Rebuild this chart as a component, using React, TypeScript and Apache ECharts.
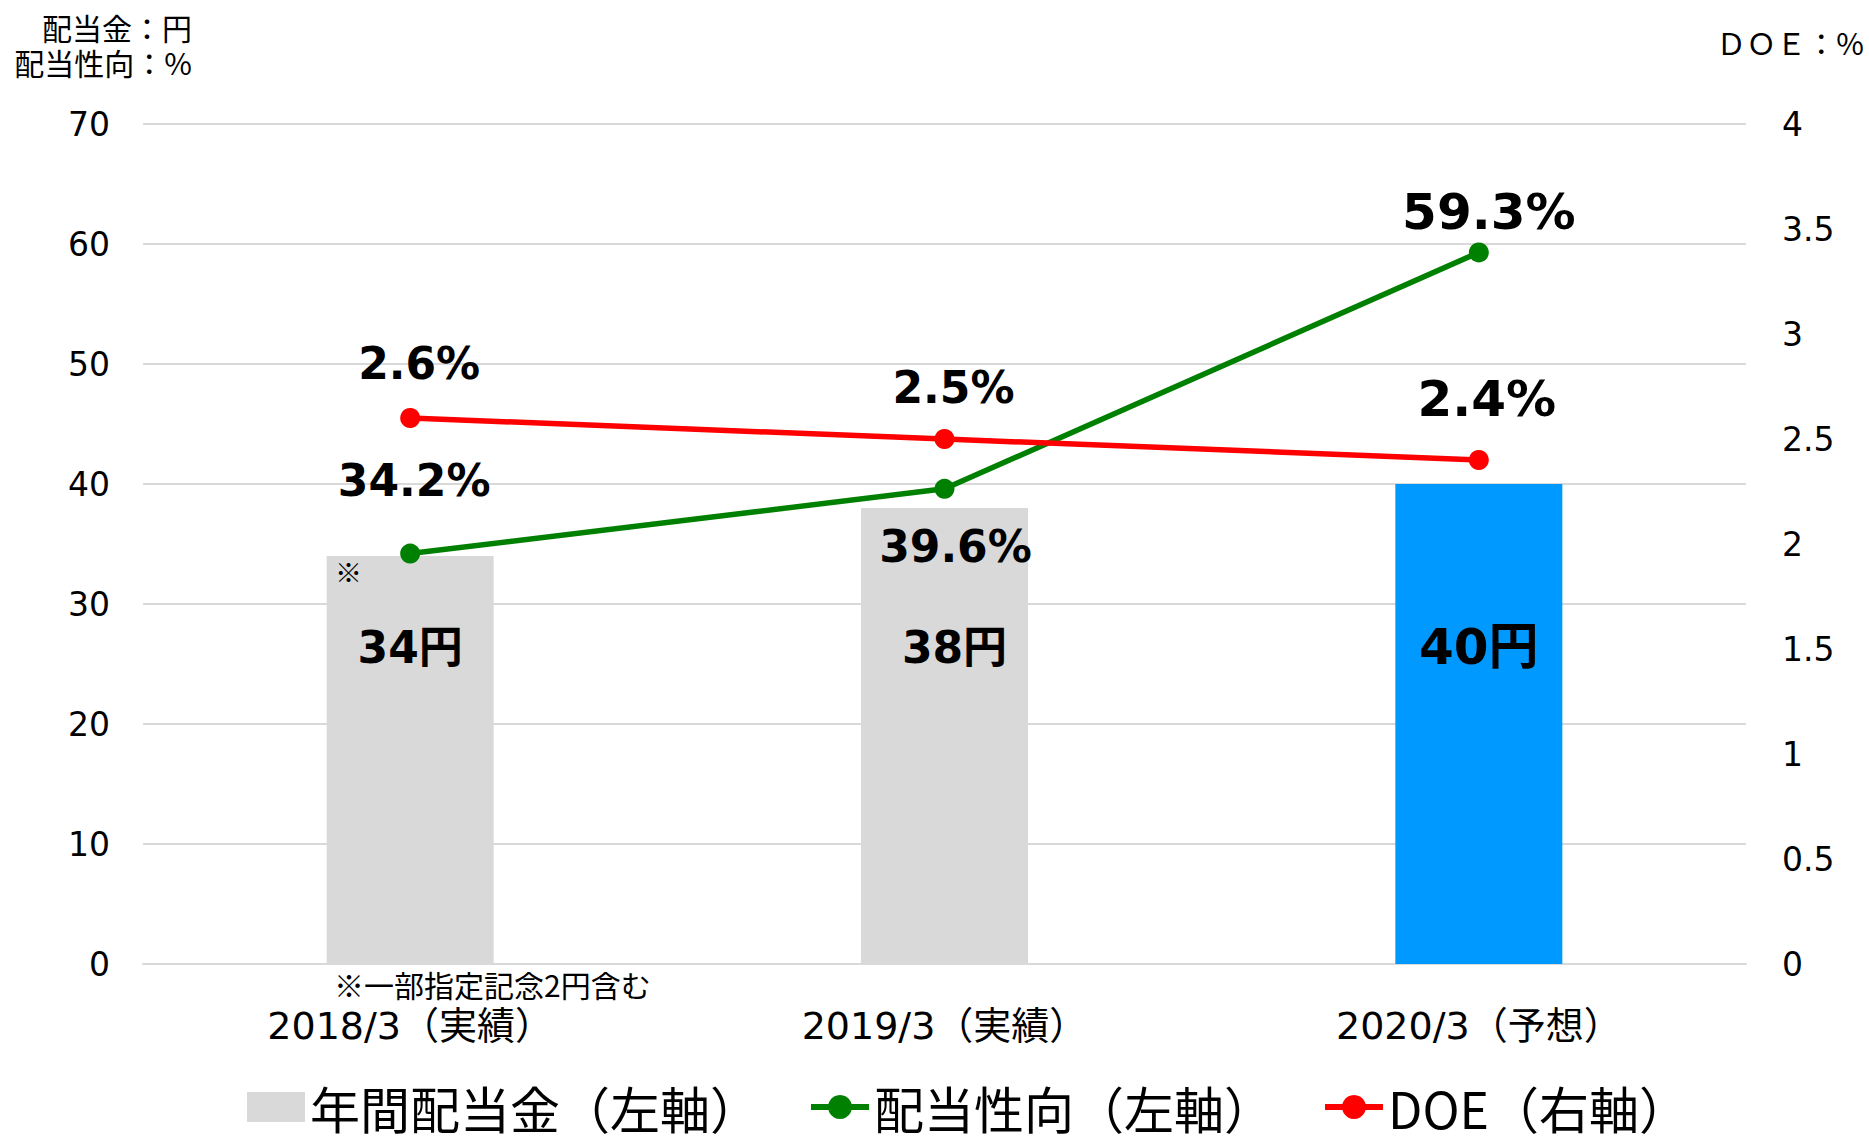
import React, { useEffect, useRef } from "react";
import * as echarts from "echarts";

const categories = ["2018/3（実績）", "2019/3（実績）", "2020/3（予想）"];
const dividend = [34, 38, 40];
const payoutRatio = [34.2, 39.6, 59.3];
const doe = [2.6, 2.5, 2.4];
const leftMin = 0;
const leftMax = 70;
const leftInterval = 10;
const rightMin = 0;
const rightMax = 4;
const rightInterval = 0.5;

const W = 1869;
const H = 1136;
const GRID = { left: 143, right: 123, top: 124, bottom: 172 };
const JP = "'Noto Sans CJK JP', 'DejaVu Sans', sans-serif";
const NUM = "'DejaVu Sans', 'Noto Sans CJK JP', sans-serif";

export default function App() {
  const ref = useRef<HTMLDivElement>(null);
  useEffect(() => {
    if (!ref.current) return;
    const chart = echarts.init(ref.current, undefined, { renderer: "svg" });
    const gridH = H - GRID.top - GRID.bottom;
    const pxPerLeft = gridH / (leftMax - leftMin);
    const barLabelLevel = 26.4;
    const barFont = [44, 44, 50];
    const barOff = [0, 10, 0];
    const greenPos = ["top", "bottom", "top"];
    const greenDist = [41, 26, 5];
    const greenOff = [4, 11, 10];
    const greenFont = [44, 44, 50];
    const redDist = [23, 20, 26];
    const redOff = [9, 9, 8];
    const redFont = [44, 44, 50];

    chart.setOption({
      animation: false,
      backgroundColor: "#ffffff",
      grid: GRID,
      legend: {
        left: 247,
        top: 1082,
        itemWidth: 58,
        itemHeight: 30,
        itemGap: 48,
        padding: 0,
        lineStyle: { width: 6 },
        textStyle: { fontFamily: JP, fontSize: 50, lineHeight: 50, color: "#000" },
        data: [
          { name: "年間配当金（左軸）", icon: "rect" },
          { name: "配当性向（左軸）" },
          { name: "DOE（右軸）" },
        ],
      },
      xAxis: {
        type: "category",
        data: categories,
        axisLine: { lineStyle: { color: "#D9D9D9", width: 2 } },
        axisTick: { show: false },
        axisLabel: { fontFamily: NUM, fontSize: 38, color: "#000", margin: 43 },
      },
      yAxis: [
        {
          type: "value",
          min: leftMin,
          max: leftMax,
          interval: leftInterval,
          axisLine: { show: false },
          axisTick: { show: false },
          splitLine: { lineStyle: { color: "#D9D9D9", width: 2 } },
          axisLabel: { fontFamily: NUM, fontSize: 33, color: "#000", margin: 33 },
        },
        {
          type: "value",
          min: rightMin,
          max: rightMax,
          interval: rightInterval,
          axisLine: { show: false },
          axisTick: { show: false },
          splitLine: { show: false },
          axisLabel: { fontFamily: NUM, fontSize: 33, color: "#000", margin: 36 },
        },
      ],
      series: [
        {
          name: "年間配当金（左軸）",
          type: "bar",
          yAxisIndex: 0,
          barWidth: 167,
          itemStyle: { color: "#D9D9D9" },
          data: dividend.map((v, i) => ({
            value: v,
            itemStyle: i === 2 ? { color: "#0099FF" } : undefined,
            label: {
              show: true,
              position: "insideTop",
              distance: (v - barLabelLevel) * pxPerLeft - barFont[i] / 2,
              offset: [barOff[i], 0],
              formatter: `${v}円`,
              fontFamily: NUM,
              fontWeight: "bold",
              fontSize: barFont[i],
              color: "#000",
            },
          })),
        },
        {
          name: "配当性向（左軸）",
          type: "line",
          yAxisIndex: 0,
          symbol: "circle",
          symbolSize: 20,
          lineStyle: { color: "#008000", width: 5.5 },
          itemStyle: { color: "#008000" },
          data: payoutRatio.map((v, i) => ({
            value: v,
            label: {
              show: true,
              position: greenPos[i],
              distance: greenDist[i],
              offset: [greenOff[i], 0],
              formatter: `${v.toFixed(1)}%`,
              fontFamily: NUM,
              fontWeight: "bold",
              fontSize: greenFont[i],
              color: "#000",
            },
          })),
          z: 3,
        },
        {
          name: "DOE（右軸）",
          type: "line",
          yAxisIndex: 1,
          symbol: "circle",
          symbolSize: 20,
          lineStyle: { color: "#FF0000", width: 5.5 },
          itemStyle: { color: "#FF0000" },
          data: doe.map((v, i) => ({
            value: v,
            label: {
              show: true,
              position: "top",
              distance: redDist[i],
              offset: [redOff[i], 0],
              formatter: `${v.toFixed(1)}%`,
              fontFamily: NUM,
              fontWeight: "bold",
              fontSize: redFont[i],
              color: "#000",
            },
          })),
          z: 4,
        },
      ],
      graphic: [
        {
          type: "text",
          right: W - 192,
          top: 11,
          style: { text: "配当金：円", fontFamily: JP, fontSize: 30, lineHeight: 32, fill: "#000" },
        },
        {
          type: "text",
          right: W - 192,
          top: 46,
          style: { text: "配当性向：%", fontFamily: JP, fontSize: 30, lineHeight: 32, fill: "#000" },
        },
        {
          type: "text",
          right: W - 1864,
          top: 27,
          style: { text: "ＤＯＥ：%", fontFamily: JP, fontSize: 30, fill: "#000" },
        },
        {
          type: "text",
          left: 334,
          top: 969,
          style: {
            text: "※一部指定記念2円含む",
            fontFamily: JP,
            fontSize: 30,
            fill: "#000",
          },
        },
        {
          type: "text",
          left: 335,
          top: 558,
          z: 10,
          style: { text: "※", fontFamily: JP, fontSize: 27, fill: "#000" },
        },
      ],
    });
    return () => chart.dispose();
  }, []);
  return (
    <div
      ref={ref}
      style={{ position: "fixed", left: 0, top: 0, width: W, height: H }}
    />
  );
}
